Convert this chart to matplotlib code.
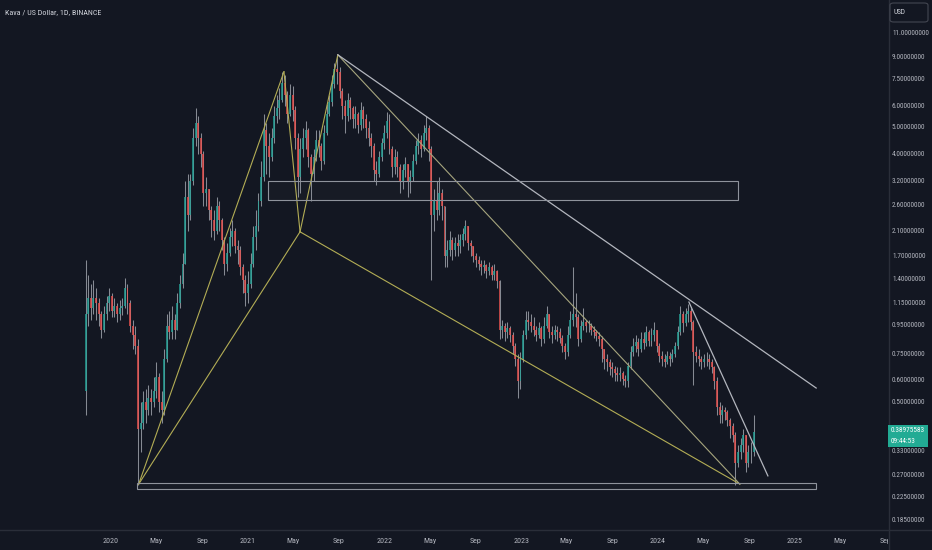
import datetime as dt
import matplotlib
matplotlib.use("Agg")
import matplotlib.pyplot as plt
import matplotlib.dates as mdates
import matplotlib.transforms as mtransforms
import matplotlib.font_manager as fm
from matplotlib.patches import Rectangle, FancyBboxPatch
from matplotlib.lines import Line2D
from matplotlib.ticker import NullLocator

# ---------------- data (weekly candles) ----------------
start_date = dt.date(2019, 10, 25)
first_open = 0.55
closes = [1.05, 1.2, 1.1, 1.2, 1.15, 1.05, 0.92, 1.05, 1.15, 1.22,
          1.08, 1.12, 1.05, 1.1, 1.12, 1.3, 1.15, 0.95, 0.88, 0.8,
          0.4, 0.42, 0.5, 0.47, 0.52, 0.5, 0.55, 0.62, 0.5, 0.47,
          0.72, 0.95, 0.9, 1.0, 0.92, 1.15, 1.35, 1.6, 2.8, 2.4,
          3.2, 4.6, 5.2, 4.6, 4.0, 2.9, 3.0, 2.5, 2.3, 2.1,
          2.6, 2.3, 1.95, 1.6, 1.75, 2.0, 2.1, 1.85, 1.8, 1.55,
          1.4, 1.25, 1.35, 1.6, 2.0, 2.2, 2.7, 3.3, 4.9, 4.3,
          3.9, 4.6, 5.5, 5.9, 6.3, 7.3, 6.6, 5.6, 6.6, 5.8,
          4.6, 3.3, 4.2, 4.6, 4.9, 3.9, 3.4, 3.9, 4.5, 4.3,
          3.8, 4.8, 5.6, 6.2, 7.2, 8.2, 8.0, 6.8, 6.0, 5.5,
          6.3, 5.9, 5.4, 5.6, 5.1, 5.8, 5.4, 5.0, 4.6, 4.3,
          3.5, 3.4, 3.9, 4.4, 4.8, 5.3, 4.2, 3.6, 3.9, 3.6,
          3.2, 3.5, 3.7, 3.2, 3.3, 3.8, 4.3, 4.5, 4.2, 4.8,
          5.0, 4.2, 2.4, 2.7, 2.5, 2.9, 2.6, 1.7, 1.8, 1.95,
          1.8, 1.9, 1.85, 1.95, 2.05, 2.2, 1.9, 1.85, 1.7, 1.65,
          1.6, 1.55, 1.58, 1.5, 1.55, 1.45, 1.5, 1.38, 0.92, 0.95,
          0.9, 0.93, 0.88, 0.8, 0.72, 0.6, 0.72, 0.88, 1.0, 0.98,
          0.95, 0.92, 0.88, 0.93, 0.85, 0.95, 1.05, 0.9, 0.88, 0.92,
          0.9, 0.86, 0.8, 0.76, 0.88, 1.0, 1.05, 1.02, 0.85, 0.95,
          0.98, 0.95, 0.95, 0.92, 0.9, 0.87, 0.85, 0.78, 0.72, 0.7,
          0.67, 0.66, 0.64, 0.63, 0.64, 0.61, 0.6, 0.68, 0.76, 0.8,
          0.83, 0.78, 0.85, 0.82, 0.9, 0.84, 0.88, 0.92, 0.8, 0.74,
          0.72, 0.7, 0.74, 0.72, 0.75, 0.8, 0.9, 1.05, 0.97, 1.05,
          1.08, 0.98, 0.76, 0.74, 0.72, 0.7, 0.72, 0.72, 0.7, 0.67,
          0.6, 0.48, 0.45, 0.47, 0.46, 0.43, 0.41, 0.38, 0.3, 0.33,
          0.35, 0.38, 0.3, 0.33, 0.33, 0.38975583]
highs = [1.65, 1.45, 1.35, 1.4, 1.3, 1.2, 1.08, 1.12, 1.22, 1.3,
         1.25, 1.2, 1.15, 1.18, 1.2, 1.42, 1.35, 1.18, 1.0, 0.95,
         0.85, 0.5, 0.55, 0.56, 0.58, 0.56, 0.62, 0.7, 0.64, 0.55,
         0.78, 1.05, 1.08, 1.12, 1.05, 1.25, 1.45, 1.75, 3.2, 3.4,
         3.4, 5.0, 5.9, 5.5, 4.8, 4.1, 3.3, 3.0, 2.6, 2.5,
         2.8, 2.7, 2.35, 2.0, 1.9, 2.15, 2.3, 2.15, 1.95, 1.85,
         1.6, 1.45, 1.5, 1.75, 2.2, 2.5, 2.9, 3.8, 5.6, 5.2,
         4.8, 5.0, 6.0, 6.6, 7.0, 8.0, 7.8, 6.8, 7.2, 7.1,
         6.0, 4.8, 4.6, 5.0, 5.3, 5.0, 4.0, 4.2, 4.9, 4.9,
         4.4, 5.1, 6.1, 6.6, 7.8, 8.6, 9.2, 8.3, 7.0, 6.3,
         6.7, 6.5, 6.0, 6.0, 5.7, 6.2, 6.0, 5.6, 5.3, 4.8,
         4.4, 3.8, 4.1, 4.6, 5.1, 5.7, 5.6, 4.3, 4.2, 4.1,
         3.7, 3.7, 3.9, 3.6, 3.5, 4.0, 4.5, 4.8, 4.7, 5.1,
         5.5, 5.1, 4.3, 3.0, 3.2, 3.3, 3.0, 2.6, 1.95, 2.1,
         2.0, 2.0, 2.05, 2.05, 2.15, 2.3, 2.2, 1.95, 1.85, 1.75,
         1.7, 1.65, 1.65, 1.6, 1.62, 1.58, 1.6, 1.52, 1.4, 1.0,
         0.97, 0.98, 0.95, 0.9, 0.82, 0.75, 0.76, 0.92, 1.08, 1.08,
         1.05, 1.02, 0.95, 0.98, 0.95, 1.02, 1.12, 1.05, 0.95, 0.96,
         0.95, 0.93, 0.88, 0.82, 0.95, 1.08, 1.55, 1.25, 1.05, 1.0,
         1.1, 1.0, 1.0, 0.97, 0.95, 0.92, 0.9, 0.87, 0.78, 0.75,
         0.72, 0.7, 0.68, 0.67, 0.67, 0.65, 0.63, 0.7, 0.8, 0.86,
         0.88, 0.86, 0.9, 0.9, 0.95, 0.92, 0.93, 0.98, 0.92, 0.82,
         0.77, 0.75, 0.77, 0.76, 0.78, 0.83, 0.95, 1.12, 1.08, 1.1,
         1.14, 1.1, 1.0, 0.8, 0.78, 0.74, 0.75, 0.76, 0.75, 0.72,
         0.68, 0.62, 0.5, 0.49, 0.48, 0.47, 0.44, 0.42, 0.39, 0.35,
         0.37, 0.4, 0.38, 0.35, 0.36, 0.45]
lows = [0.45, 0.95, 1.0, 1.05, 1.0, 0.95, 0.86, 0.9, 1.0, 1.08,
        1.02, 1.02, 0.98, 1.0, 1.04, 1.1, 1.05, 0.9, 0.78, 0.75,
        0.25, 0.33, 0.4, 0.42, 0.45, 0.45, 0.48, 0.52, 0.46, 0.42,
        0.45, 0.7, 0.85, 0.85, 0.85, 0.92, 1.1, 1.3, 1.6, 2.1,
        2.3, 3.1, 4.3, 4.0, 3.6, 2.6, 2.6, 2.3, 2.0, 1.95,
        2.05, 2.1, 1.8, 1.45, 1.5, 1.7, 1.85, 1.75, 1.6, 1.45,
        1.25, 1.12, 1.15, 1.3, 1.55, 1.8, 2.1, 2.6, 3.2, 3.4,
        3.3, 3.8, 4.4, 5.2, 5.4, 6.2, 6.0, 5.2, 5.5, 5.3,
        4.2, 2.8, 2.9, 3.9, 4.2, 3.6, 2.7, 3.2, 3.8, 3.9,
        3.5, 3.7, 4.7, 5.5, 6.0, 7.0, 7.2, 6.4, 5.4, 4.8,
        5.3, 5.4, 5.0, 5.0, 4.8, 4.9, 5.0, 4.6, 4.3, 3.9,
        3.2, 3.1, 3.3, 3.8, 4.2, 4.6, 4.0, 3.3, 3.4, 3.3,
        2.9, 3.0, 3.3, 2.8, 2.9, 3.2, 3.7, 4.0, 3.9, 4.1,
        4.5, 3.8, 1.4, 2.1, 2.3, 2.4, 2.3, 1.55, 1.55, 1.7,
        1.65, 1.7, 1.7, 1.75, 1.85, 1.95, 1.8, 1.7, 1.62, 1.55,
        1.52, 1.45, 1.48, 1.42, 1.45, 1.4, 1.4, 1.3, 0.85, 0.86,
        0.84, 0.86, 0.83, 0.75, 0.68, 0.52, 0.56, 0.7, 0.85, 0.92,
        0.9, 0.87, 0.84, 0.86, 0.8, 0.82, 0.93, 0.86, 0.82, 0.85,
        0.84, 0.82, 0.76, 0.72, 0.74, 0.86, 0.95, 0.94, 0.8, 0.83,
        0.92, 0.9, 0.9, 0.88, 0.86, 0.84, 0.8, 0.7, 0.66, 0.65,
        0.63, 0.62, 0.6, 0.6, 0.6, 0.58, 0.57, 0.57, 0.66, 0.74,
        0.76, 0.74, 0.76, 0.78, 0.8, 0.8, 0.8, 0.84, 0.76, 0.7,
        0.68, 0.67, 0.69, 0.68, 0.7, 0.73, 0.78, 0.88, 0.9, 0.95,
        0.98, 0.92, 0.58, 0.7, 0.68, 0.66, 0.67, 0.68, 0.66, 0.64,
        0.56, 0.45, 0.42, 0.42, 0.43, 0.41, 0.37, 0.36, 0.25, 0.29,
        0.31, 0.33, 0.28, 0.29, 0.3, 0.32]

# drawings: anchors (date, price)
yellow_lines = [("2020-03-15", 0.252, "2021-04-07", 8.0),
                ("2020-03-15", 0.252, "2021-05-20", 2.09),
                ("2021-04-07", 8.0, "2021-05-20", 2.09),
                ("2021-05-20", 2.09, "2021-08-29", 9.22),
                ("2021-05-20", 2.09, "2024-08-07", 0.252)]
olive_lines = [("2021-08-29", 9.22, "2024-08-07", 0.252)]
white_lines = [("2021-08-29", 9.22, "2025-02-27", 0.564),
               ("2024-03-24", 1.16, "2024-10-21", 0.27)]
boxes = [("2020-03-10", "2025-02-27", 0.242, 0.254),
         ("2021-02-23", "2024-08-02", 2.73, 3.2)]

price_ticks = [11.0, 9.0, 7.5, 6.0, 5.0, 4.0, 3.2, 2.6, 2.1, 1.7, 1.4, 1.15,
               0.95, 0.75, 0.6, 0.5, 0.33, 0.27, 0.225, 0.185]
time_tick_dates = ["2020-01-01", "2020-05-01", "2020-09-01", "2021-01-01", "2021-05-01",
                   "2021-09-01", "2022-01-01", "2022-05-01", "2022-09-01", "2023-01-01",
                   "2023-05-01", "2023-09-01", "2024-01-01", "2024-05-01", "2024-09-01",
                   "2025-01-01", "2025-05-01", "2025-09-01"]
time_tick_labels = ["2020", "May", "Sep", "2021", "May", "Sep", "2022", "May", "Sep",
                    "2023", "May", "Sep", "2024", "May", "Sep", "2025", "May", "Sep"]
title = "Kava / US Dollar, 1D, BINANCE"
countdown = "09:44:53"

# ---------------- style ----------------
W, H = 932, 550
BG = "#131722"
TXT = "#b2b5be"
UP, DOWN = "#26a69a", "#ef5350"

# pick a narrow font if one is installed
names = {f.name for f in fm.fontManager.ttflist}
narrow = None
for cand in ["Liberation Sans Narrow", "DejaVu Sans Condensed", "Roboto Condensed",
             "Open Sans Condensed", "Noto Sans Condensed", "Arial Narrow"]:
    if cand in names:
        narrow = cand
        break
if narrow is None:
    for n in sorted(names):
        if "Narrow" in n or "Condensed" in n:
            narrow = n
            break
if narrow:
    FONT = [narrow, "DejaVu Sans"]
    s_price, s_time, s_title = 5.2, 5.8, 5.8
else:
    FONT = ["Liberation Sans", "DejaVu Sans"]
    s_price, s_time, s_title = 4.75, 5.4, 5.1
plt.rcParams["font.family"] = FONT


def d2n(s):
    return mdates.date2num(dt.date.fromisoformat(s))


fig = plt.figure(figsize=(W / 100, H / 100), dpi=100, facecolor=BG)
ax = fig.add_axes([0, 20 / H, 888 / W, 530 / H], facecolor=BG)
ax.set_yscale("log")
d0 = d2n("2020-01-01")
ax.set_xlim(d0 - 296.6, d0 + 2075.9)
ax.set_ylim(0.1715, 14.6)
for s in ax.spines.values():
    s.set_visible(False)
ax.set_xticks([])
ax.set_yticks([])
ax.yaxis.set_minor_locator(NullLocator())
ax.xaxis.set_minor_locator(NullLocator())

# candles
dates = [start_date + dt.timedelta(days=7 * i) for i in range(len(closes))]
xs = mdates.date2num(dates)
opens = [first_open] + closes[:-1]
for x, o, h, l, c in zip(xs, opens, highs, lows, closes):
    col = UP if c >= o else DOWN
    hi = max(h, o, c)
    lo = min(l, o, c)
    ax.vlines(x, lo, hi, colors="#a4a8b0", lw=0.75, alpha=0.8, zorder=2)
    b, t = min(o, c), max(o, c)
    ax.bar(x, t - b, bottom=b, width=5.2, color=col, alpha=0.75, lw=0, zorder=3)

# drawings
for d1, p1, d2, p2 in yellow_lines:
    ax.plot([d2n(d1), d2n(d2)], [p1, p2], color="#b3ad55", lw=0.8, zorder=4)
for d1, p1, d2, p2 in olive_lines:
    ax.plot([d2n(d1), d2n(d2)], [p1, p2], color="#a6a57e", lw=0.8, zorder=4)
for d1, p1, d2, p2 in white_lines:
    ax.plot([d2n(d1), d2n(d2)], [p1, p2], color="#b3b6be", lw=0.9, zorder=4)
for d1, d2, p1, p2 in boxes:
    ax.add_patch(Rectangle((d2n(d1), p1), d2n(d2) - d2n(d1), p2 - p1,
                           fc=(0.58, 0.6, 0.63, 0.03), ec="#8f939c", lw=0.8, zorder=4))

# title
fig.text(5 / W, 1 - 12 / H, title, color="#d1d4dc", fontsize=s_title, va="center", ha="left")

# time axis labels
tb = mtransforms.blended_transform_factory(ax.transData, fig.transFigure)
for d, lab in zip(time_tick_dates, time_tick_labels):
    fig.text(d2n(d), 1 - 541 / H, lab, transform=tb, color=TXT, fontsize=s_time,
             ha="center", va="center", zorder=1)

# right price-scale panel (covers overflowing labels)
panel = fig.add_axes([888 / W, 0, 44 / W, 1], facecolor=BG, zorder=5)
panel.set_axis_off()
panel.add_patch(Rectangle((0, 0), 1, 1, transform=panel.transAxes, fc=BG, ec="none"))

pb = mtransforms.blended_transform_factory(fig.transFigure, ax.transData)
for p in price_ticks:
    fig.text(892 / W, p, f"{p:.8f}", transform=pb, color=TXT, fontsize=s_price,
             ha="left", va="center", zorder=10)

# separators
fig.add_artist(Line2D([888.5 / W, 888.5 / W], [0, 1], transform=fig.transFigure,
                      color="#2a2e39", lw=1, zorder=11))
fig.add_artist(Line2D([0, 1], [20 / H, 20 / H], transform=fig.transFigure,
                      color="#2a2e39", lw=1, zorder=11))

# USD box
fig.add_artist(FancyBboxPatch((890 / W, 1 - 22 / H), 38 / W, 19 / H,
                              boxstyle="round,pad=0,rounding_size=0.004",
                              transform=fig.transFigure, fc=BG, ec="#434651",
                              lw=0.8, zorder=11))
fig.text(894 / W, 1 - 12.5 / H, "USD", color="#d1d4dc", fontsize=s_price,
         ha="left", va="center", zorder=12)

# current price label
fig.add_artist(Rectangle((888 / W, 1 - 447 / H), 40 / W, 22 / H,
                         transform=fig.transFigure, fc="#22ab94", ec="none", zorder=12))
fig.text(891 / W, 1 - 431 / H, f"{closes[-1]:.8f}", color="white", fontsize=s_price,
         ha="left", va="center", zorder=13)
fig.text(891 / W, 1 - 441.5 / H, countdown, color="white", fontsize=s_price,
         ha="left", va="center", zorder=13)

fig.savefig("out.png", dpi=100, facecolor=BG)
